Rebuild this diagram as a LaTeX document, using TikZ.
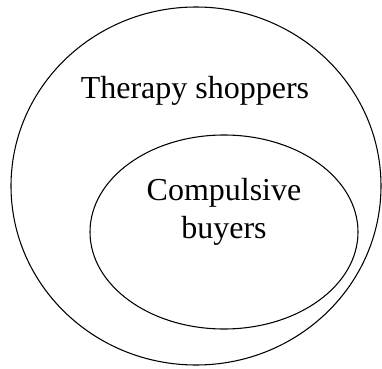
\documentclass[tikz,border=0pt]{standalone}
\usepackage{fontspec}
\setmainfont{Liberation Serif}
\usepackage{tikz}

\begin{document}
\begin{tikzpicture}[x=0.75pt, y=-0.75pt, line width=0.8pt]
    \useasboundingbox (0,0) rectangle (382,368);
    \coordinate (O) at (196,186);
    \coordinate (I) at (224,232);

    \draw (O) ellipse [x radius=185, y radius=179];
    \draw (I) ellipse [x radius=134, y radius=97];

    \node[anchor=base, inner sep=0pt, font=\fontsize{24}{28.5}\selectfont] (shoppers) at (195,98) {Therapy shoppers};
    \node[anchor=base, inner sep=0pt, align=center, font=\fontsize{24}{28.5}\selectfont] (buyers) at (224,238) {Compulsive\\buyers};
\end{tikzpicture}
\end{document}
